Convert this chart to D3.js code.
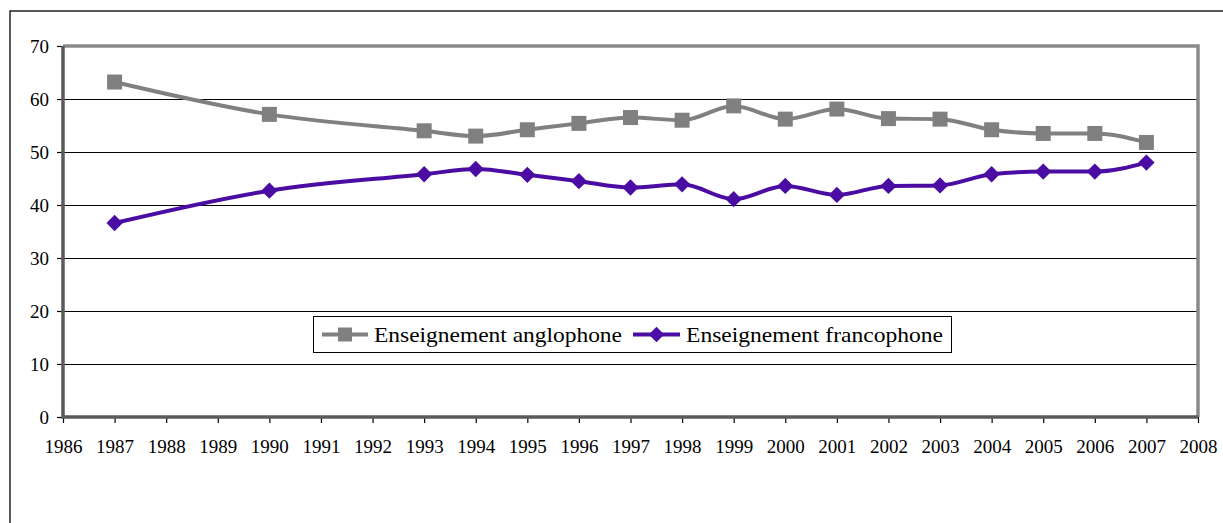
<!DOCTYPE html>
<html>
<head>
<meta charset="utf-8">
<script src="https://cdn.jsdelivr.net/npm/d3@7"></script>
<style>
  html, body { margin: 0; padding: 0; background: #fff; }
  svg { display: block; }
</style>
</head>
<body>
<svg id="chart" width="1223" height="523"></svg>
<script>
const years = [1987, 1990, 1993, 1994, 1995, 1996, 1997, 1998, 1999, 2000, 2001, 2002, 2003, 2004, 2005, 2006, 2007];
const anglophone = [63.2, 57.1, 54.0, 53.0, 54.2, 55.4, 56.5, 56.0, 58.7, 56.2, 58.1, 56.3, 56.2, 54.2, 53.5, 53.5, 51.8];
const francophone = [36.6, 42.7, 45.8, 46.8, 45.7, 44.5, 43.3, 43.9, 41.1, 43.6, 41.9, 43.6, 43.7, 45.8, 46.3, 46.3, 48.0];
const xTicks = d3.range(1986, 2009);
const yTicks = [0, 10, 20, 30, 40, 50, 60, 70];
const seriesNames = ["Enseignement anglophone", "Enseignement francophone"];

(function () {
const svg = d3.select("#chart");
const font = "'Liberation Serif', 'Times New Roman', serif";

// outer chart border
svg.append("rect").attr("x", 10).attr("y", 11).attr("width", 1240).attr("height", 540)
  .attr("fill", "none").attr("stroke", "#000").attr("stroke-width", 1.3);

const pLeft = 63, pRight = 1198, pTop = 46, pBottom = 417;
const x = d3.scaleLinear().domain([1986, 2008]).range([pLeft, pRight]);
const y = d3.scaleLinear().domain([0, 70]).range([pBottom, pTop]);

// gridlines
svg.append("g").selectAll("line").data(yTicks.filter(d => d > 0 && d < 70)).join("line")
  .attr("x1", pLeft).attr("x2", pRight).attr("y1", d => Math.round(y(d)) + 0.5).attr("y2", d => Math.round(y(d)) + 0.5)
  .attr("stroke", "#000").attr("stroke-width", 1.2);

// plot area border top/right (light gray)
svg.append("path")
  .attr("d", `M${pLeft},${pTop}H${pRight}V${pBottom}`)
  .attr("fill", "none").attr("stroke", "#8a8a8a").attr("stroke-width", 3.5);

// axes
const yAxis = d3.axisLeft(y).tickValues(yTicks).tickSize(6).tickPadding(8).tickFormat(d3.format("d"));
const gy = svg.append("g").attr("transform", `translate(${pLeft},0)`).call(yAxis);
const xAxis = d3.axisBottom(x).tickValues(xTicks).tickSize(6).tickPadding(17).tickFormat(d3.format("d"));
const gx = svg.append("g").attr("transform", `translate(0,${pBottom})`).call(xAxis);
[gx, gy].forEach(g => {
  g.select(".domain").remove();
  g.selectAll(".tick line").attr("stroke", "#000").attr("stroke-width", 1.2);
  g.selectAll(".tick text").attr("fill", "#000").style("font-family", font).style("font-size", "19px");
});
svg.append("path")
  .attr("d", `M${pLeft},${pTop}V${pBottom}H${pRight}`)
  .attr("fill", "none").attr("stroke", "#5a5a5a").attr("stroke-width", 3.5);

// lines
const colors = ["#808080", "#4a0ca3"];
const datasets = [anglophone, francophone];
const line = d3.line().x(d => x(d[0])).y(d => y(d[1])).curve(d3.curveMonotoneX);

datasets.forEach((vals, i) => {
  const pts = years.map((yr, j) => [yr, vals[j]]);
  svg.append("path").datum(pts).attr("d", line)
    .attr("fill", "none").attr("stroke", colors[i]).attr("stroke-width", 4).attr("stroke-linejoin", "round");
  const sym = i === 0 ? d3.symbolSquare : d3.symbolDiamond2;
  const size = i === 0 ? 225 : 170;
  svg.append("g").selectAll("path").data(pts).join("path")
    .attr("transform", d => `translate(${x(d[0])},${y(d[1])})`)
    .attr("d", d3.symbol(sym, size))
    .attr("fill", colors[i]);
});

// legend
const lg = svg.append("g");
lg.append("rect").attr("x", 313.5).attr("y", 316.5).attr("width", 638).attr("height", 36)
  .attr("fill", "#fff").attr("stroke", "#000").attr("stroke-width", 1);
const legendItems = [
  { x0: 322, x1: 368, tx: 374, tw: 248 },
  { x0: 633, x1: 680, tx: 686, tw: 257 }
];
legendItems.forEach((it, i) => {
  const cy = 334.5;
  lg.append("line").attr("x1", it.x0).attr("x2", it.x1).attr("y1", cy).attr("y2", cy)
    .attr("stroke", colors[i]).attr("stroke-width", 4);
  lg.append("path").attr("transform", `translate(${(it.x0 + it.x1) / 2},${cy})`)
    .attr("d", d3.symbol(i === 0 ? d3.symbolSquare : d3.symbolDiamond2, i === 0 ? 196 : 150))
    .attr("fill", colors[i]);
  lg.append("text").attr("x", it.tx).attr("y", cy + 7)
    .attr("textLength", it.tw).attr("lengthAdjust", "spacingAndGlyphs")
    .style("font-family", font).style("font-size", "21px").attr("fill", "#000")
    .text(seriesNames[i]);
});
})();
</script>
</body>
</html>
